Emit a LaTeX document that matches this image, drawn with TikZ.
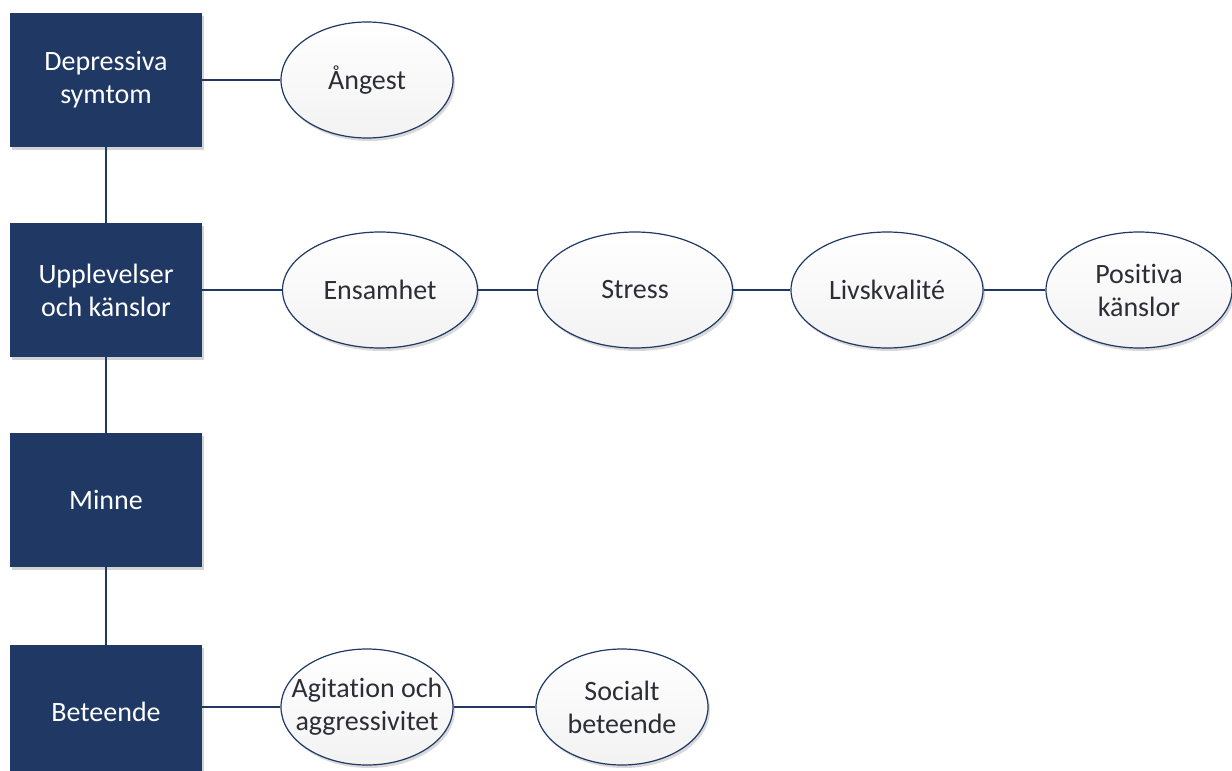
\documentclass[tikz,border=0pt]{standalone}
\usepackage{fontspec}
\setmainfont{Carlito}[Ligatures=NoCommon]
\usetikzlibrary{shapes.geometric,shadows}

\definecolor{navy}{RGB}{31,56,100}
\definecolor{inktext}{RGB}{45,45,55}

\tikzset{
	area/.style={rectangle, fill=navy, text=white, minimum width=192pt, minimum height=134pt,
		inner sep=0pt, align=center, font=\fontsize{28}{33}\selectfont,
		drop shadow={shadow xshift=2pt, shadow yshift=-3pt, opacity=0.35}},
	topic/.style={ellipse, draw=navy, line width=1.2pt, top color=white, bottom color=gray!10,
		text=inktext, minimum width=172pt, minimum height=116pt, inner sep=0pt, align=center,
		font=\fontsize{28}{33}\selectfont,
		drop shadow={shadow xshift=2pt, shadow yshift=-3pt, opacity=0.3}},
	link/.style={draw=navy, line width=1.6pt}
}

\begin{document}
\begin{tikzpicture}[x=1pt,y=-1pt]
	\useasboundingbox (0,0) rectangle (1232,771);

	%boxes
	\node[area] (dep) 	at (106,80) 	{Depressiva\\symtom};
	\node[area] (upp) 	at (106,290) 	{Upplevelser\\och känslor};
	\node[area] (min) 	at (106,500) 	{Minne};
	\node[area] (bet) 	at (106,712) 	{Beteende};

	%ellipses
	\node[topic] (ang) 	at (367,80) 	{Ångest};
	\node[topic, minimum width=195pt] (ens) 	at (380,290) 	{Ensamhet};
	\node[topic, minimum width=195pt] (str) 	at (635,290) 	{Stress};
	\node[topic, minimum width=192pt] (liv) 	at (887,290) 	{Livskvalité};
	\node[topic, minimum width=186pt] (pos) 	at (1139,290) 	{Positiva\\känslor};
	\node[topic, inner xsep=-20pt] (agi) 	at (367,707) 	{Agitation och\\aggressivitet};
	\node[topic] (soc) 	at (622,707) 	{Socialt\\beteende};

	%lines
	\draw[link] (dep) -- (upp);
	\draw[link] (upp) -- (min);
	\draw[link] (min) -- (bet);
	\draw[link] (dep) -- (ang);
	\draw[link] (upp) -- (ens);
	\draw[link] (ens) -- (str);
	\draw[link] (str) -- (liv);
	\draw[link] (liv) -- (pos);
	\draw[link] (bet.east |- agi) -- (agi);
	\draw[link] (agi) -- (soc);
\end{tikzpicture}
\end{document}
